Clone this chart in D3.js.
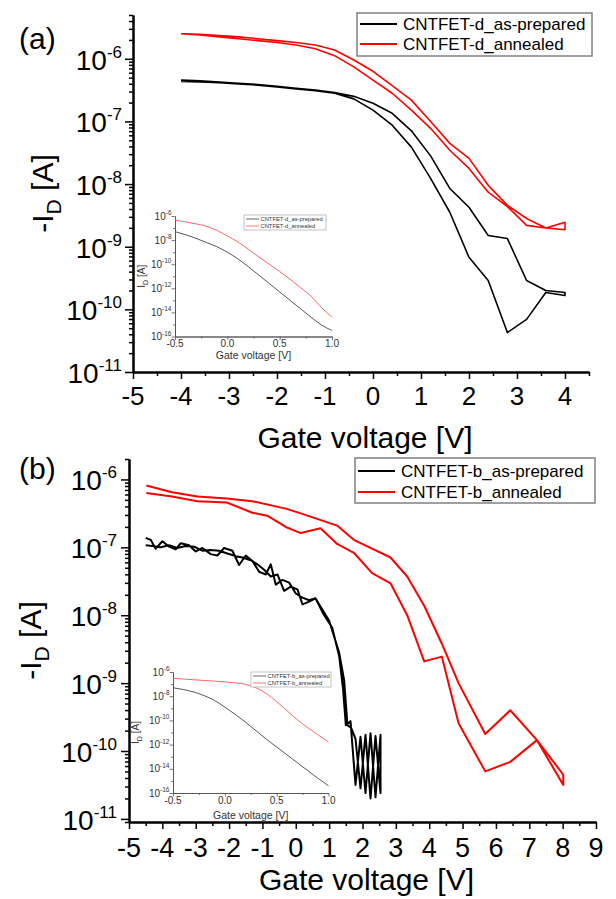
<!DOCTYPE html>
<html lang="en">
<head>
<meta charset="UTF-8">
<title>CNTFET transfer curves</title>
<style>
  body { margin: 0; background: #fff; }
  svg { display: block; font-family: "Liberation Sans", Arial, sans-serif; }
  .main .domain { stroke: #000; stroke-width: 2; }
  .main .tick line { stroke: #000; stroke-width: 1.5; }
  .ins .domain { stroke: #555; stroke-width: 0.9; }
  .ins .tick line { stroke: #555; stroke-width: 0.8; }
</style>
</head>
<body>
<svg width="616" height="899"></svg>
<script src="https://d3js.org/d3.v7.min.js"></script>
<script>
// values are log10(-I_D / A)

// panel (a), sweep -4 -> +4 V and back
const vgA = [-4, -3.6, -3.2, -2.8, -2.4, -2.0, -1.6, -1.2, -0.8, -0.4, 0, 0.4, 0.8, 1.2, 1.6, 2.0, 2.4, 2.8, 3.2, 3.6, 4.0];
const aBlackUp = [-6.34, -6.35, -6.37, -6.39, -6.41, -6.44, -6.47, -6.50, -6.54, -6.60, -6.71, -6.87, -7.15, -7.55, -8.07, -8.37, -8.82, -8.87, -9.54, -9.70, -9.73];
// listed from +4 back to -4
const aBlackDown = [-9.78, -9.73, -10.16, -10.37, -9.54, -9.17, -8.45, -7.91, -7.41, -7.06, -6.82, -6.64, -6.55, -6.51, -6.48, -6.45, -6.42, -6.40, -6.38, -6.37, -6.36];
const aRedUp = [-5.60, -5.61, -5.63, -5.65, -5.68, -5.71, -5.74, -5.78, -5.86, -6.02, -6.20, -6.43, -6.66, -7.00, -7.35, -7.59, -8.02, -8.34, -8.55, -8.70, -8.61];
const aRedDown = [-8.73, -8.70, -8.66, -8.36, -8.13, -7.75, -7.46, -7.11, -6.82, -6.55, -6.34, -6.13, -5.95, -5.84, -5.78, -5.74, -5.71, -5.68, -5.65, -5.62, -5.60];

// panel (b)
const bBlackV1 = [-4.50, -4.35, -4.20, -4.00, -3.80, -3.60, -3.45, -3.20, -3.00, -2.80, -2.55, -2.35, -2.15, -1.90, -1.70, -1.50, -1.30, -1.10, -0.90, -0.75, -0.60, -0.40, -0.20, 0.00, 0.20, 0.40, 0.59, 0.85, 1.09, 1.30, 1.42, 1.50, 1.64, 1.79, 1.94, 2.09, 2.24, 2.39, 2.54];
const bBlack1 = [-6.86, -6.89, -7.02, -6.91, -6.99, -7.03, -6.94, -6.97, -7.06, -7.01, -7.10, -7.12, -7.01, -7.05, -7.26, -7.12, -7.20, -7.36, -7.40, -7.25, -7.55, -7.48, -7.52, -7.68, -7.74, -7.78, -7.75, -8.00, -8.18, -8.60, -9.10, -9.62, -9.56, -10.50, -9.79, -10.62, -9.74, -10.68, -9.76];
const bBlackV2 = [2.54, 2.39, 2.24, 2.09, 1.94, 1.79, 1.66, 1.55, 1.45, 1.30, 1.00, 0.59, 0.40, 0.20, 0.05, -0.15, -0.35, -0.55, -0.75, -0.95, -1.15, -1.35, -1.60, -1.80, -2.05, -2.30, -2.55, -2.80, -3.05, -3.30, -3.55, -3.80, -4.05, -4.30, -4.50];
const bBlack2 = [-10.62, -9.78, -10.70, -9.76, -10.55, -9.82, -9.66, -9.62, -8.96, -8.55, -8.08, -7.75, -7.80, -7.84, -7.62, -7.58, -7.64, -7.40, -7.43, -7.33, -7.25, -7.19, -7.15, -7.13, -7.09, -7.05, -7.04, -7.05, -6.99, -6.98, -7.01, -6.97, -7.00, -6.98, -6.97];
const bRedUpV = [-4.48, -3.71, -2.95, -2.07, -1.30, -0.30, 0.15, 1.24, 1.74, 2.84, 3.34, 3.85, 4.38, 4.88, 5.68, 6.43, 7.23, 8.02];
const bRedUp = [-6.09, -6.19, -6.25, -6.28, -6.32, -6.43, -6.50, -6.68, -6.89, -7.15, -7.43, -7.86, -8.42, -9.00, -9.75, -9.40, -9.84, -10.35];
const bRedDownV = [8.02, 7.23, 6.43, 5.68, 4.88, 4.38, 3.85, 3.34, 2.84, 2.29, 1.74, 1.24, 0.74, 0.15, -0.30, -0.83, -1.30, -2.07, -2.95, -3.71, -4.48];
const bRedDown = [-10.50, -9.84, -10.16, -10.30, -9.59, -8.61, -8.68, -8.00, -7.53, -7.38, -7.08, -6.95, -6.72, -6.79, -6.70, -6.54, -6.49, -6.34, -6.32, -6.25, -6.20];

// insets (simulated curves)
const insV = [-0.5, -0.4, -0.3, -0.2, -0.1, 0, 0.1, 0.2, 0.3, 0.4, 0.5, 0.6, 0.7, 0.8, 0.9, 1.0];
const insABlack = [-7.30, -7.55, -7.85, -8.20, -8.55, -9.00, -9.55, -10.20, -10.90, -11.60, -12.30, -13.00, -13.70, -14.40, -15.05, -15.50];
const insARed = [-6.33, -6.50, -6.65, -6.85, -7.20, -7.65, -8.15, -8.75, -9.40, -10.00, -10.60, -11.25, -11.95, -12.65, -13.60, -14.40];
const insBBlack = [-7.30, -7.45, -7.65, -7.95, -8.35, -8.90, -9.50, -10.15, -10.85, -11.55, -12.20, -12.85, -13.50, -14.15, -14.80, -15.40];
const insBRed = [-6.53, -6.58, -6.64, -6.70, -6.75, -6.82, -6.90, -7.02, -7.30, -7.78, -8.45, -9.20, -9.95, -10.60, -11.20, -11.80];

const mainExp = [-6, -7, -8, -9, -10, -11];
const insExp = [-6, -8, -10, -12, -14, -16];
const insTicks = [-0.5, 0.0, 0.5, 1.0];

const svg = d3.select("svg");
const pairs = (vs, ls) => vs.map((v, i) => [v, ls[i]]);
const fmtV = v => (v < 0 ? "-" : "") + Math.abs(v);

function logMinors(lo, hi) {
  const out = [];
  for (let e = -17; e <= -5; e++)
    for (let m = 2; m <= 9; m++) {
      const v = m * Math.pow(10, e);
      if (v >= lo && v <= hi) out.push(v);
    }
  return out;
}

function powLabel(g, px, py, e, big, small, dy, fill) {
  const t = g.append("text")
    .attr("x", px).attr("y", py)
    .attr("text-anchor", "end")
    .attr("fill", fill);
  t.append("tspan").attr("font-size", big).text("10");
  t.append("tspan").attr("font-size", small).attr("dy", -dy).text(e);
}

function panel(p) {
  const x = d3.scaleLinear().domain(p.xDomain).range(p.xRange);
  const y = d3.scaleLog().domain(p.yDomain).range(p.yRange);
  const g = svg.append("g").attr("class", "main");
  const x0 = p.xRange[0], y0 = p.yRange[0];

  g.append("g").attr("transform", `translate(${x0},0)`)
    .call(d3.axisLeft(y).tickValues(logMinors(p.yDomain[0], p.yDomain[1])).tickSize(4).tickSizeOuter(0).tickFormat(""));
  g.append("g").attr("transform", `translate(${x0},0)`)
    .call(d3.axisLeft(y).tickValues(mainExp.map(e => Math.pow(10, e))).tickSize(8).tickSizeOuter(0).tickFormat(""));

  const halves = d3.range(p.xDomain[0] + 0.5, p.xDomain[1] + 0.01, 1);
  const whole = d3.range(p.xDomain[0], Math.floor(p.xDomain[1]) + 1, 1);
  g.append("g").attr("transform", `translate(0,${y0})`)
    .call(d3.axisBottom(x).tickValues(halves).tickSize(4).tickSizeOuter(0).tickFormat(""));
  g.append("g").attr("transform", `translate(0,${y0})`)
    .call(d3.axisBottom(x).tickValues(whole).tickSize(7).tickSizeOuter(0).tickFormat(""));

  mainExp.forEach(e => powLabel(g, x0 - p.yLabelGap, y(Math.pow(10, e)) + 11, e, 28, 17, 12, "#000"));

  g.selectAll(".xl").data(whole).join("text")
    .attr("x", d => x(d)).attr("y", y0 + p.xLabelDy)
    .attr("text-anchor", "middle").attr("font-size", p.xLabelSize)
    .text(fmtV);

  g.append("text")
    .attr("x", (p.xRange[0] + p.xRange[1]) / 2 + 4).attr("y", p.xTitleY)
    .attr("text-anchor", "middle").attr("font-size", 30)
    .text("Gate voltage [V]");

  const yt = g.append("text")
    .attr("transform", `translate(${p.yTitleX},${(p.yRange[0] + p.yRange[1]) / 2}) rotate(-90)`)
    .attr("text-anchor", "middle").attr("font-size", 30);
  yt.append("tspan").text("-I");
  yt.append("tspan").attr("font-size", 21).attr("dy", 8).text("D");
  yt.append("tspan").attr("dy", -8).text(" [A]");

  g.append("text").attr("x", 19).attr("y", p.tagY).attr("font-size", 30).text(p.tag);

  const line = d3.line().x(d => x(d[0])).y(d => y(Math.pow(10, d[1])));
  p.series.forEach(s => {
    g.append("path").datum(s.pts)
      .attr("fill", "none").attr("stroke", s.color)
      .attr("stroke-width", p.lw).attr("stroke-linejoin", "round")
      .attr("d", line);
  });

  // legend
  const L = p.legend;
  g.append("rect").attr("x", L.x).attr("y", L.y).attr("width", L.w).attr("height", L.h)
    .attr("fill", "#fff").attr("stroke", "#808080").attr("stroke-width", 1.5);
  p.series.forEach((s, i) => {
    const ry = L.rows[i];
    g.append("line").attr("x1", L.x + 3).attr("x2", L.x + 40).attr("y1", ry).attr("y2", ry)
      .attr("stroke", s.color).attr("stroke-width", 2);
    g.append("text").attr("x", L.x + 46).attr("y", ry + 6).attr("font-size", 17).text(s.name);
  });

  inset(p.inset);
}

function inset(q) {
  const x = d3.scaleLinear().domain([-0.5, 1.0]).range(q.xRange);
  const y = d3.scaleLog().domain([1e-16, 1e-6]).range(q.yRange);
  const g = svg.append("g").attr("class", "ins");
  const x0 = q.xRange[0], y0 = q.yRange[0];

  g.append("g").attr("transform", `translate(${x0},0)`)
    .call(d3.axisLeft(y).tickValues([-7, -9, -11, -13, -15].map(e => Math.pow(10, e))).tickSize(2).tickSizeOuter(0).tickFormat(""));
  g.append("g").attr("transform", `translate(${x0},0)`)
    .call(d3.axisLeft(y).tickValues(insExp.map(e => Math.pow(10, e))).tickSize(3.5).tickSizeOuter(0).tickFormat(""));
  g.append("g").attr("transform", `translate(0,${y0})`)
    .call(d3.axisBottom(x).tickValues([-0.25, 0.25, 0.75]).tickSize(2).tickSizeOuter(0).tickFormat(""));
  g.append("g").attr("transform", `translate(0,${y0})`)
    .call(d3.axisBottom(x).tickValues(insTicks).tickSize(3.5).tickSizeOuter(0).tickFormat(""));

  insExp.forEach(e => powLabel(g, x0 - 3.5, y(Math.pow(10, e)) + 3.5, e, 10, 6.5, 4.5, "#333"));
  g.selectAll(".xl").data(insTicks).join("text")
    .attr("x", d => x(d)).attr("y", y0 + 10.5)
    .attr("text-anchor", "middle").attr("font-size", 10).attr("fill", "#333")
    .text(d => d3.format(".1f")(d).replace("−", "-"));
  g.append("text").attr("x", (q.xRange[0] + q.xRange[1]) / 2).attr("y", y0 + q.titleDy)
    .attr("text-anchor", "middle").attr("font-size", 10.5).attr("fill", "#333")
    .text("Gate voltage [V]");
  const yt = g.append("text")
    .attr("transform", `translate(${q.yTitleX},${(q.yRange[0] + q.yRange[1]) / 2}) rotate(-90)`)
    .attr("text-anchor", "middle").attr("font-size", 10).attr("fill", "#333");
  yt.append("tspan").text("I");
  yt.append("tspan").attr("font-size", 7).attr("dy", 3).text("D");
  yt.append("tspan").attr("dy", -3).text(" [A]");

  const line = d3.line().curve(d3.curveMonotoneX).x(d => x(d[0])).y(d => y(Math.pow(10, d[1])));
  q.series.forEach(s => {
    g.append("path").datum(pairs(insV, s.vals))
      .attr("fill", "none").attr("stroke", s.color).attr("stroke-width", 0.9)
      .attr("d", line);
  });

  const L = q.legend;
  g.append("rect").attr("x", L.x).attr("y", L.y).attr("width", L.w).attr("height", 15)
    .attr("fill", "#fff").attr("stroke", "#aaa").attr("stroke-width", 0.7);
  q.series.forEach((s, i) => {
    const ry = L.y + 4 + i * 7;
    g.append("line").attr("x1", L.x + 2).attr("x2", L.x + 15).attr("y1", ry).attr("y2", ry)
      .attr("stroke", s.color).attr("stroke-width", 0.8);
    g.append("text").attr("x", L.x + 16.5).attr("y", ry + 2).attr("font-size", 5.8).attr("fill", "#333").text(s.name);
  });
}

panel({
  tag: "(a)", tagY: 49,
  xDomain: [-5, 4.5], xRange: [133, 589],
  yDomain: [1e-11, 5e-6], yRange: [372, 15],
  yLabelGap: 11, xLabelDy: 33, xLabelSize: 26, xTitleY: 448, yTitleX: 53,
  lw: 1.6,
  series: [
    { name: "CNTFET-d_as-prepared", color: "#000",
      pts: pairs(vgA, aBlackUp).concat(pairs(vgA.slice().reverse(), aBlackDown)) },
    { name: "CNTFET-d_annealed", color: "#ff0000",
      pts: pairs(vgA, aRedUp).concat(pairs(vgA.slice().reverse(), aRedDown)) }
  ],
  legend: { x: 357, y: 13, w: 235, h: 43, rows: [24, 44] },
  inset: {
    xRange: [175, 332], yRange: [336.5, 216], titleDy: 22.5, yTitleX: 145,
    legend: { x: 244, y: 215, w: 82 },
    series: [
      { name: "CNTFET-d_as-prepared", color: "#444", vals: insABlack },
      { name: "CNTFET-d_annealed", color: "#ff5555", vals: insARed }
    ]
  }
});

panel({
  tag: "(b)", tagY: 479,
  xDomain: [-5, 9], xRange: [129, 596],
  yDomain: [9e-12, 2e-6], yRange: [822, 459],
  yLabelGap: 12, xLabelDy: 35, xLabelSize: 27, xTitleY: 890, yTitleX: 41,
  lw: 2,
  series: [
    { name: "CNTFET-b_as-prepared", color: "#000",
      pts: pairs(bBlackV1, bBlack1).concat(pairs(bBlackV2, bBlack2)) },
    { name: "CNTFET-b_annealed", color: "#ff0000",
      pts: pairs(bRedUpV, bRedUp).concat(pairs(bRedDownV, bRedDown)) }
  ],
  legend: { x: 355, y: 458, w: 240, h: 45, rows: [471, 492] },
  inset: {
    xRange: [173, 328.5], yRange: [793, 672], titleDy: 26, yTitleX: 139,
    legend: { x: 251, y: 672, w: 80 },
    series: [
      { name: "CNTFET-b_as-prepared", color: "#444", vals: insBBlack },
      { name: "CNTFET-b_annealed", color: "#ff5555", vals: insBRed }
    ]
  }
});
</script>
</body>
</html>
